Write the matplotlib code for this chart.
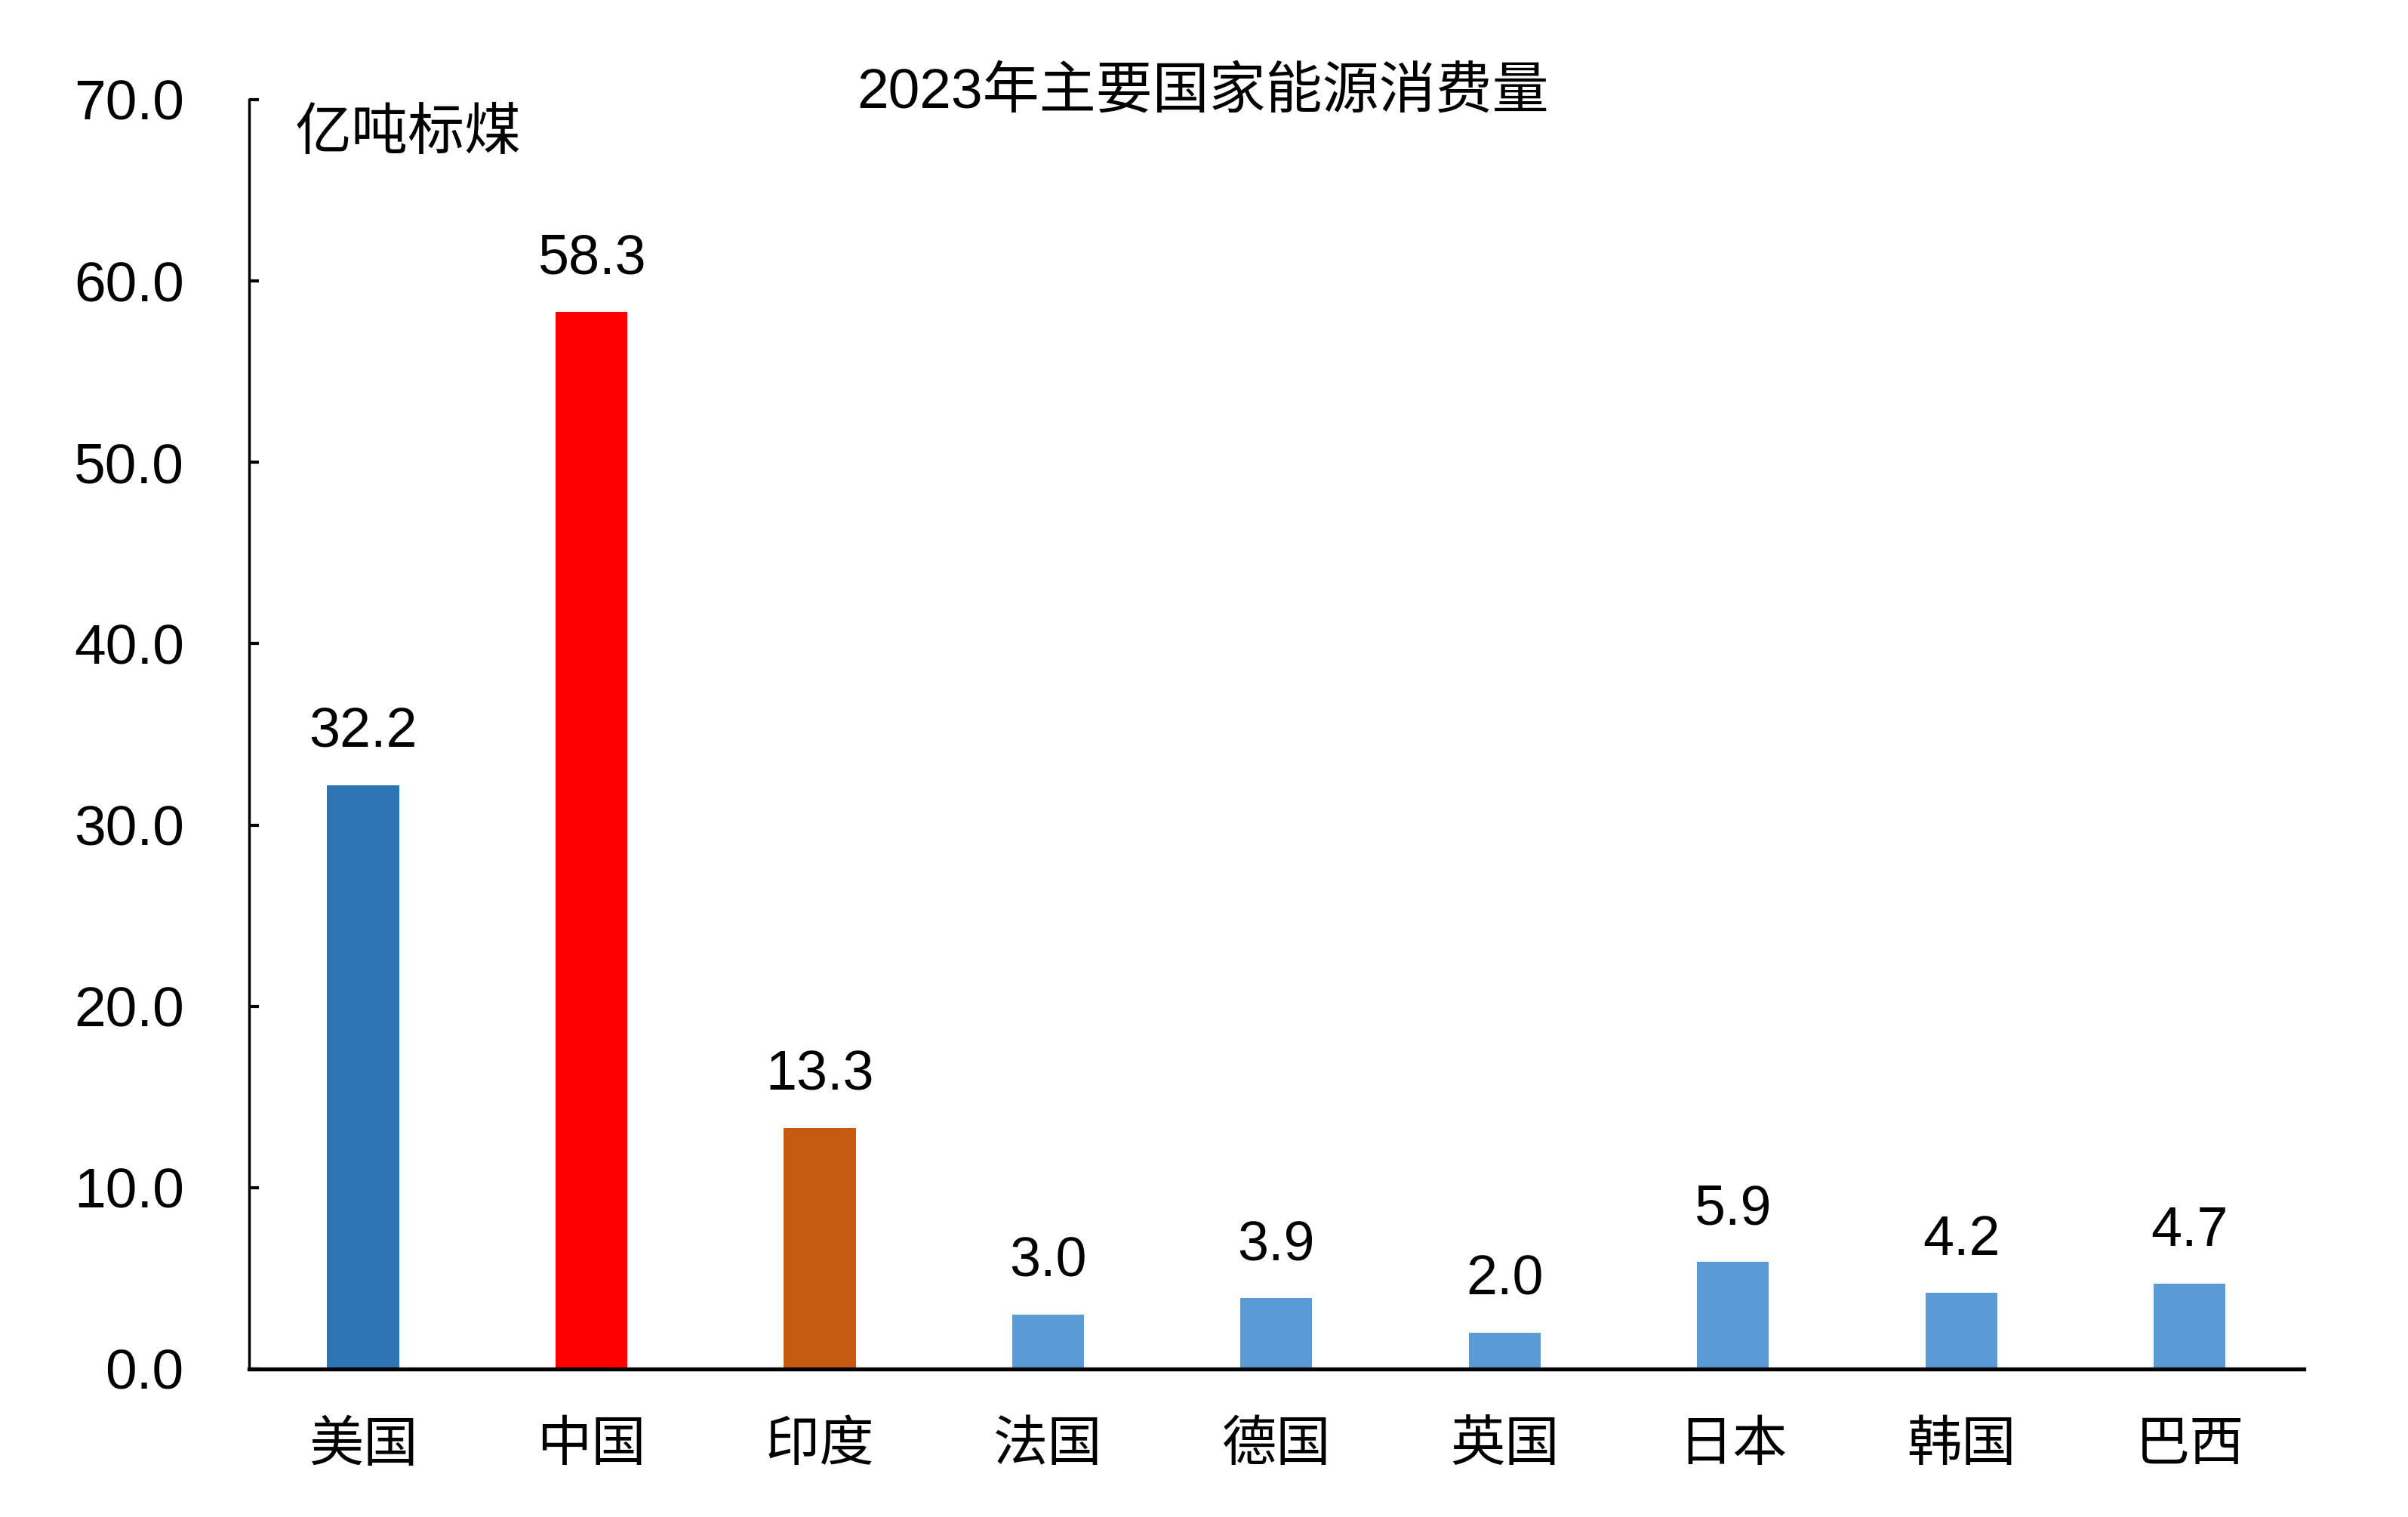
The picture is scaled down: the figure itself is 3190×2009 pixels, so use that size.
import matplotlib
matplotlib.use("Agg")
import matplotlib.pyplot as plt

plt.rcParams['font.family'] = ['Liberation Sans', 'Noto Sans CJK SC', 'DejaVu Sans']

categories = ['美国', '中国', '印度', '法国', '德国', '英国', '日本', '韩国', '巴西']
values = [32.2, 58.3, 13.3, 3.0, 3.9, 2.0, 5.9, 4.2, 4.7]
colors = ['#2E75B6', '#FF0000', '#C55A11', '#5B9BD5', '#5B9BD5', '#5B9BD5', '#5B9BD5', '#5B9BD5', '#5B9BD5']
yticks = [0, 10, 20, 30, 40, 50, 60, 70]
title = '2023年主要国家能源消费量'
unit = '亿吨标煤'

fig = plt.figure(figsize=(31.9, 20.09), dpi=100)
ax = fig.add_axes([0.1034, 0.0976, 0.9567 - 0.1034, 0.9343 - 0.0976])

x = list(range(len(categories)))
ax.bar(x, values, width=0.315, color=colors, zorder=2)
ax.set_xlim(-0.5, len(categories) - 0.5)
ax.set_ylim(0, 70)
ax.set_yticks(yticks)
ax.set_yticklabels([f'{v:.1f}' for v in yticks])
ax.set_xticks(x)
ax.set_xticklabels(categories)

for s in ['top', 'right']:
    ax.spines[s].set_visible(False)
ax.spines['left'].set_linewidth(2.5)
ax.spines['bottom'].set_linewidth(3.8)

ax.tick_params(axis='y', direction='in', length=9.5, width=3, labelsize=54, pad=62)
ax.tick_params(axis='x', length=0, labelsize=52, pad=50)

for xi, v in zip(x, values):
    ax.annotate(f'{v:.1f}', xy=(xi, v), xytext=(0, 36), textcoords='offset points',
                ha='center', va='baseline', fontsize=53)

fig.text(0.4994, 0.939, title, ha='center', va='center', fontsize=54)
fig.text(0.1226, 0.911, unit, ha='left', va='center', fontsize=54)

fig.savefig('out.png', dpi=100)
